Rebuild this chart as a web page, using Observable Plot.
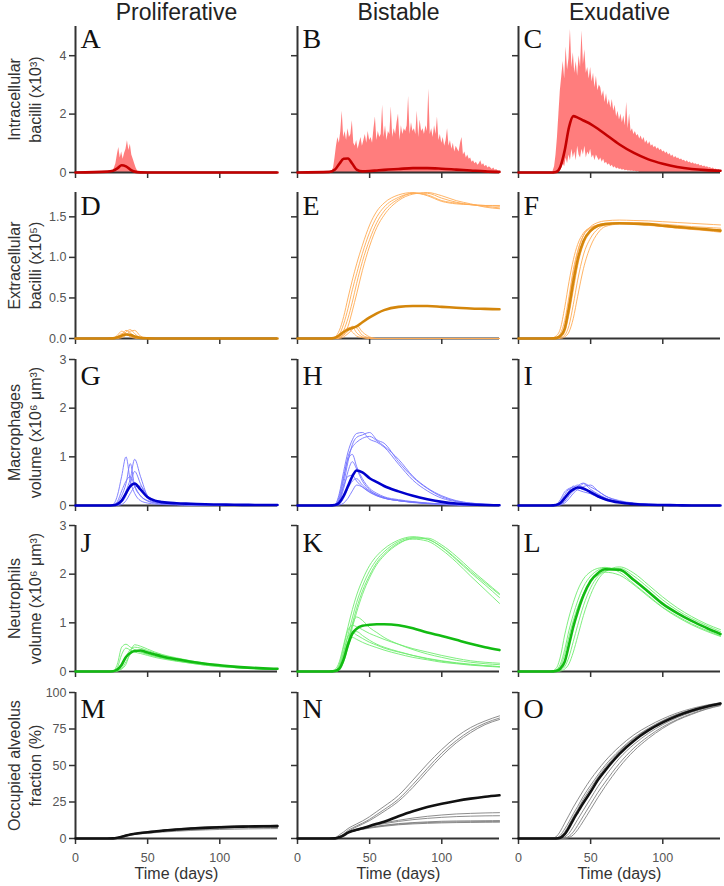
<!DOCTYPE html>
<html><head><meta charset="utf-8">
<script src="https://cdn.jsdelivr.net/npm/d3@7"></script>
<script src="https://cdn.jsdelivr.net/npm/@observablehq/plot@0.6"></script>
<style>
body{margin:0;background:#fff;}
#fig{position:relative;width:724px;height:886px;overflow:hidden;background:#fff;}
#fig svg{position:absolute;background:transparent;overflow:visible;}
g[aria-label$="tick label"]{fill:#555;}
g[aria-label="x-axis tick"], g[aria-label="y-axis tick"]{stroke:#333;stroke-width:1.5;}
</style></head><body><div id="fig"></div>
<script>
// ---- shared grid (days) ----
const T = [0,22,26,29,32,35,38,41,45,50,55,60,70,80,90,100,110,120,130,140];
const columns = ["Proliferative","Bistable","Exudative"];
const letters = [["A","B","C"],["D","E","F"],["G","H","I"],["J","K","L"],["M","N","O"]];
const yLabels = ["Intracellular\nbacilli (x10³)","Extracellular\nbacilli (x10⁵)","Macrophages\nvolume (x10⁶ μm³)","Neutrophils\nvolume (x10⁶ μm³)","Occupied alveolus\nfraction (%)"];
const yDomains = [[0,5],[0,1.8],[0,3],[0,3],[0,100]];
const yTicks = [[0,2,4],[0,0.5,1,1.5],[0,1,2,3],[0,1,2,3],[0,25,50,75,100]];
const xTicks = [0,50,100];
const xLabel = "Time (days)";

// ---- row 1: intracellular bacilli ----
const intraA_mean = [0,0.03,0.06,0.14,0.25,0.21,0.1,0.03,0.005,0,0,0,0,0,0,0,0,0,0,0];
const intraB_mean = [0,0.02,0.1,0.3,0.47,0.48,0.3,0.1,0.04,0.05,0.07,0.09,0.12,0.15,0.15,0.13,0.1,0.07,0.04,0.02];
const intraC_mean = [0,0,0.02,0.2,0.75,1.55,1.93,1.88,1.78,1.66,1.5,1.32,0.96,0.67,0.45,0.3,0.19,0.12,0.08,0.06];
const noiseA_days = d3.range(25,46);
const noiseA_hi = [0,0.05,0.15,0.3,0.6,0.86,0.5,0.7,0.45,0.65,0.8,1.09,0.75,0.97,0.6,0.45,0.3,0.15,0.05,0.02,0];
const noiseBC_days = d3.range(24,141);
const noiseB_hi = [0.05,0.15,0.5,0.9,1.2,1.0,1.4,2.1,1.2,1.4,
 1.1,1.5,1.2,1.3,1.77,1.0,0.9,1.1,0.8,1.0,
 1.2,0.9,1.1,1.3,1.0,1.4,1.1,1.2,1.0,1.5,
 1.9,1.1,1.4,1.2,1.3,2.3,1.2,1.6,1.1,1.4,
 1.3,2.25,1.2,1.5,1.3,1.7,2.0,1.1,1.6,1.3,
 1.5,1.4,1.6,2.6,1.3,1.7,1.4,1.5,1.3,2.1,
 1.2,1.8,1.4,1.5,1.3,1.6,1.4,2.85,1.3,1.5,
 1.2,1.6,1.3,1.9,1.1,1.3,1.0,1.2,0.9,1.1,
 1.5,0.9,1.1,0.8,1.0,0.7,0.9,0.8,0.7,1.0,
 1.2,0.6,0.7,0.5,0.6,0.45,0.5,0.35,0.4,0.3,
 0.35,0.25,0.3,0.4,0.25,0.3,0.2,0.25,0.15,0.2,
 0.15,0.1,0.15,0.08,0.1,0.05,0.03];
const noiseC_hi = [0.05,0.2,0.6,1.2,2.0,2.8,3.3,3.8,3.2,4.3,
 3.5,3.9,4.9,3.6,4.1,3.4,3.8,3.3,4.0,3.6,
 4.85,3.7,4.2,3.4,3.6,3.2,3.6,3.1,3.4,2.9,
 3.3,2.8,3.0,2.9,2.6,2.8,2.4,2.7,2.3,2.5,
 2.2,2.5,2.1,2.3,1.9,2.1,1.8,2.0,1.7,1.94,
 1.6,2.4,1.5,2.0,1.4,1.5,1.3,1.4,1.25,1.3,
 1.15,1.25,1.1,1.2,1.0,1.1,0.95,1.05,0.9,0.95,
 0.85,0.9,0.8,0.85,0.75,0.8,0.7,0.74,0.65,0.7,
 0.6,0.65,0.55,0.6,0.5,0.55,0.48,0.5,0.44,0.46,
 0.4,0.42,0.36,0.4,0.33,0.36,0.3,0.33,0.28,0.3,
 0.26,0.28,0.22,0.25,0.2,0.22,0.18,0.2,0.15,0.17,
 0.13,0.15,0.1,0.12,0.08,0.1,0.06];
const noiseC_lo = [0,0,0,0,0,0.05,0.15,0.3,0.2,0.5,
 0.3,0.6,0.4,0.8,0.5,0.7,0.4,0.9,0.6,0.5,
 0.8,0.6,0.9,0.5,0.7,0.6,0.8,0.5,0.6,0.4,
 0.6,0.5,0.4,0.5,0.35,0.45,0.3,0.35,0.25,0.3,
 0.2,0.25,0.15,0.2,0.12,0.15,0.1,0.12,0.08,0.1,
 0.06,0.08,0.05,0.06,0.04,0.05,0.03,0.04,0.02,0.03,
 0,0,0,0,0,0,0,0,0,0,
 0,0,0,0,0,0,0,0,0,0,
 0,0,0,0,0,0,0,0,0,0,
 0,0,0,0,0,0,0,0,0,0,
 0,0,0,0,0,0,0,0,0,0,
 0,0,0,0,0,0,0];

// ---- row 2: extracellular bacilli ----
const extraD_mean = [0,0,0.002,0.015,0.035,0.05,0.045,0.025,0.008,0.002,0,0,0,0,0,0,0,0,0,0];
const extraD_thin = [
 [0,0,0.005,0.04,0.09,0.06,0.02,0.005,0,0,0,0,0,0,0,0,0,0,0,0],
 [0,0,0,0.01,0.05,0.1,0.07,0.02,0.003,0,0,0,0,0,0,0,0,0,0,0],
 [0,0,0,0.005,0.03,0.08,0.11,0.06,0.01,0,0,0,0,0,0,0,0,0,0,0],
 [0,0,0,0,0.01,0.04,0.09,0.1,0.03,0,0,0,0,0,0,0,0,0,0,0],
 [0,0,0.003,0.02,0.06,0.05,0.03,0.01,0,0,0,0,0,0,0,0,0,0,0,0]];
const extraE_mean = [0,0,0.01,0.04,0.08,0.11,0.13,0.15,0.2,0.26,0.31,0.35,0.39,0.4,0.4,0.39,0.38,0.37,0.365,0.36];
const extraE_thin = [
 [0,0,0.02,0.1,0.27,0.5,0.72,0.92,1.15,1.4,1.57,1.67,1.77,1.8,1.76,1.69,1.66,1.65,1.64,1.64],
 [0,0,0.01,0.05,0.18,0.37,0.6,0.8,1.05,1.31,1.5,1.62,1.74,1.79,1.77,1.7,1.67,1.65,1.64,1.63],
 [0,0,0,0.02,0.1,0.25,0.45,0.68,0.95,1.22,1.43,1.57,1.72,1.79,1.79,1.73,1.68,1.65,1.63,1.61],
 [0,0,0,0.01,0.05,0.15,0.34,0.55,0.84,1.14,1.37,1.52,1.7,1.78,1.8,1.76,1.7,1.66,1.62,1.6],
 [0,0,0.01,0.05,0.1,0.12,0.08,0.03,0.01,0,0,0,0,0,0,0,0,0,0,0],
 [0,0,0,0.02,0.07,0.13,0.14,0.07,0.02,0,0,0,0,0,0,0,0,0,0,0],
 [0,0,0,0.01,0.04,0.09,0.15,0.13,0.04,0.01,0,0,0,0,0,0,0,0,0,0],
 [0,0,0,0,0.02,0.06,0.11,0.16,0.08,0.02,0,0,0,0,0,0,0,0,0,0]];
const extraF_mean = [0,0,0.005,0.03,0.12,0.38,0.7,0.97,1.2,1.33,1.39,1.41,1.42,1.415,1.41,1.39,1.375,1.36,1.345,1.33];
const extraF_thin = [
 [0,0,0.03,0.12,0.38,0.7,0.97,1.16,1.3,1.37,1.4,1.41,1.42,1.415,1.41,1.39,1.38,1.36,1.35,1.34],
 [0,0,0.01,0.06,0.22,0.52,0.85,1.08,1.27,1.36,1.4,1.42,1.43,1.43,1.42,1.41,1.395,1.38,1.37,1.36],
 [0,0,0,0.02,0.08,0.3,0.6,0.9,1.16,1.31,1.38,1.41,1.42,1.41,1.4,1.38,1.36,1.345,1.33,1.31],
 [0,0,0,0.01,0.04,0.16,0.42,0.72,1.03,1.24,1.35,1.4,1.42,1.41,1.395,1.38,1.365,1.35,1.34,1.32],
 [0,0,0,0,0.02,0.08,0.25,0.52,0.86,1.14,1.3,1.38,1.41,1.41,1.4,1.385,1.37,1.355,1.34,1.33],
 [0,0,0.005,0.04,0.15,0.45,0.8,1.06,1.27,1.38,1.43,1.45,1.46,1.455,1.45,1.44,1.43,1.42,1.41,1.4]];

// ---- row 3: macrophages ----
const macG_mean = [0,0,0.005,0.03,0.1,0.25,0.4,0.45,0.33,0.17,0.1,0.07,0.045,0.035,0.025,0.02,0.015,0.012,0.01,0.01];
const macG_thin = [
 [0,0,0.02,0.2,0.6,1.0,0.5,0.25,0.1,0.05,0.03,0.02,0.01,0,0,0,0,0,0,0],
 [0,0,0,0.02,0.1,0.3,0.55,0.95,0.6,0.2,0.1,0.06,0.03,0.02,0.01,0,0,0,0,0],
 [0,0,0,0.05,0.2,0.45,0.86,0.4,0.2,0.1,0.06,0.04,0.02,0.01,0,0,0,0,0,0],
 [0,0,0.01,0.08,0.3,0.5,0.6,0.4,0.2,0.09,0.05,0.03,0.02,0.01,0,0,0,0,0,0],
 [0,0,0,0.01,0.06,0.2,0.45,0.7,0.45,0.15,0.07,0.05,0.03,0.02,0.01,0,0,0,0,0],
 [0,0,0,0,0.02,0.1,0.25,0.38,0.4,0.2,0.1,0.06,0.04,0.02,0.01,0,0,0,0,0]];
const macH_mean = [0,0,0.01,0.06,0.2,0.4,0.6,0.72,0.68,0.56,0.48,0.4,0.29,0.2,0.13,0.075,0.04,0.02,0.01,0.005];
const macH_thin = [
 [0,0,0.02,0.25,0.7,1.1,1.35,1.48,1.5,1.36,1.3,1.2,0.85,0.52,0.3,0.15,0.08,0.04,0.02,0.01],
 [0,0,0,0.1,0.45,0.9,1.25,1.4,1.45,1.5,1.35,1.28,0.9,0.58,0.35,0.18,0.09,0.05,0.02,0.01],
 [0,0,0.01,0.15,0.55,1.0,1.2,1.3,1.38,1.42,1.33,1.22,0.95,0.6,0.36,0.2,0.1,0.05,0.03,0.01],
 [0,0,0.02,0.2,0.6,0.95,1.05,0.8,0.55,0.35,0.25,0.18,0.12,0.08,0.05,0.03,0.02,0.01,0,0],
 [0,0,0,0.08,0.35,0.7,0.9,0.75,0.5,0.32,0.22,0.16,0.1,0.07,0.04,0.02,0.01,0,0,0],
 [0,0,0.01,0.12,0.4,0.6,0.62,0.5,0.38,0.27,0.2,0.15,0.1,0.07,0.05,0.03,0.02,0.01,0,0],
 [0,0,0,0.03,0.15,0.35,0.5,0.55,0.42,0.3,0.22,0.16,0.1,0.07,0.04,0.03,0.02,0.01,0,0],
 [0,0,0,0.01,0.05,0.15,0.3,0.42,0.38,0.28,0.2,0.15,0.1,0.06,0.04,0.02,0.01,0,0,0]];
const macI_mean = [0,0,0.01,0.05,0.15,0.26,0.33,0.37,0.35,0.27,0.19,0.13,0.06,0.03,0.015,0.01,0.005,0,0,0];
const macI_thin = [
 [0,0,0.02,0.12,0.28,0.35,0.38,0.42,0.36,0.28,0.2,0.14,0.07,0.03,0.02,0.01,0,0,0,0],
 [0,0,0,0.04,0.15,0.3,0.4,0.36,0.45,0.33,0.24,0.16,0.08,0.04,0.02,0.01,0,0,0,0],
 [0,0,0.01,0.08,0.22,0.33,0.3,0.38,0.32,0.3,0.22,0.15,0.07,0.04,0.02,0.01,0.005,0,0,0],
 [0,0,0,0.02,0.08,0.2,0.3,0.4,0.46,0.38,0.3,0.2,0.1,0.05,0.03,0.015,0.01,0,0,0],
 [0,0,0.005,0.05,0.18,0.28,0.36,0.32,0.28,0.24,0.17,0.12,0.06,0.03,0.015,0.01,0,0,0,0],
 [0,0,0,0.01,0.05,0.14,0.25,0.33,0.39,0.42,0.3,0.2,0.09,0.04,0.02,0.01,0.005,0,0,0]];

// ---- row 4: neutrophils ----
const neuJ_mean = [0,0,0.005,0.04,0.14,0.3,0.38,0.42,0.43,0.39,0.35,0.31,0.25,0.2,0.16,0.13,0.1,0.08,0.065,0.055];
const neuJ_thin = [
 [0,0,0.01,0.15,0.5,0.56,0.5,0.45,0.4,0.35,0.31,0.28,0.22,0.18,0.14,0.11,0.09,0.07,0.06,0.05],
 [0,0,0,0.01,0.05,0.15,0.4,0.55,0.52,0.46,0.4,0.35,0.28,0.22,0.17,0.13,0.1,0.08,0.065,0.055],
 [0,0,0.005,0.08,0.35,0.48,0.44,0.4,0.37,0.33,0.29,0.26,0.21,0.17,0.13,0.1,0.08,0.065,0.05,0.04],
 [0,0,0,0.02,0.1,0.3,0.45,0.5,0.48,0.43,0.38,0.33,0.27,0.21,0.16,0.12,0.1,0.08,0.06,0.05],
 [0,0,0,0.01,0.06,0.2,0.35,0.42,0.4,0.36,0.32,0.28,0.22,0.17,0.13,0.1,0.08,0.06,0.05,0.04]];
const neuK_mean = [0,0,0.01,0.06,0.25,0.55,0.78,0.88,0.94,0.96,0.97,0.97,0.95,0.89,0.8,0.73,0.65,0.57,0.5,0.44];
const neuK_thin = [
 [0,0,0.02,0.12,0.4,0.75,1.1,1.42,1.75,2.07,2.3,2.46,2.67,2.75,2.72,2.55,2.3,2.03,1.78,1.52],
 [0,0,0.04,0.2,0.55,0.92,1.27,1.57,1.88,2.18,2.38,2.52,2.7,2.77,2.72,2.56,2.32,2.06,1.82,1.58],
 [0,0,0.01,0.06,0.25,0.55,0.9,1.22,1.58,1.93,2.2,2.38,2.62,2.74,2.74,2.6,2.37,2.1,1.85,1.6],
 [0,0,0.01,0.08,0.3,0.62,0.98,1.3,1.65,1.98,2.24,2.41,2.64,2.72,2.68,2.5,2.25,1.96,1.68,1.4],
 [0,0,0.02,0.15,0.5,0.85,0.95,0.92,0.86,0.78,0.72,0.66,0.56,0.47,0.4,0.33,0.27,0.22,0.19,0.17],
 [0,0,0,0.05,0.25,0.6,0.95,1.12,1.05,0.9,0.8,0.7,0.56,0.45,0.36,0.29,0.23,0.19,0.16,0.14],
 [0,0,0.01,0.1,0.4,0.72,0.8,0.75,0.68,0.6,0.54,0.48,0.4,0.33,0.27,0.22,0.18,0.15,0.12,0.1],
 [0,0,0,0.03,0.2,0.5,0.75,0.82,0.74,0.64,0.56,0.5,0.41,0.33,0.26,0.21,0.17,0.14,0.12,0.1],
 [0,0,0.01,0.08,0.35,0.62,0.7,0.66,0.6,0.54,0.49,0.44,0.36,0.29,0.24,0.19,0.16,0.13,0.11,0.09]];
const neuL_mean = [0,0,0.01,0.06,0.2,0.55,0.92,1.22,1.56,1.86,2.02,2.1,2.09,1.88,1.64,1.39,1.2,1.04,0.9,0.77];
const neuL_thin = [
 [0,0,0.06,0.3,0.75,1.12,1.42,1.67,1.9,2.05,2.12,2.14,2.04,1.8,1.56,1.32,1.14,0.98,0.85,0.73],
 [0,0,0.03,0.15,0.45,0.85,1.17,1.45,1.74,1.96,2.08,2.13,2.08,1.86,1.62,1.38,1.19,1.03,0.9,0.78],
 [0,0,0,0.03,0.1,0.3,0.62,0.95,1.35,1.72,1.95,2.07,2.12,1.96,1.72,1.47,1.26,1.09,0.95,0.82],
 [0,0,0,0.01,0.05,0.16,0.4,0.72,1.15,1.58,1.88,2.05,2.15,2.02,1.78,1.53,1.31,1.13,0.98,0.86],
 [0,0,0.02,0.1,0.35,0.72,1.05,1.32,1.6,1.85,1.98,2.04,1.98,1.78,1.54,1.31,1.12,0.96,0.83,0.72]];

// ---- row 5: occupied alveolus fraction ----
const occM_mean = [0,0,0.1,0.5,1.2,2.0,2.7,3.2,3.8,4.3,4.8,5.3,6.2,6.8,7.3,7.7,8.0,8.2,8.35,8.5];
const occM_thin = [
 [0,0,0.15,0.7,1.5,2.3,3.0,3.5,4.1,4.7,5.2,5.7,6.7,7.4,7.9,8.3,8.6,8.8,9.0,9.1],
 [0,0,0.05,0.4,1.0,1.7,2.4,2.9,3.4,3.9,4.3,4.8,5.6,6.1,6.5,6.9,7.2,7.4,7.5,7.6],
 [0,0,0.1,0.5,1.1,1.8,2.4,2.8,3.2,3.6,4.0,4.4,5.0,5.5,5.9,6.2,6.4,6.6,6.7,6.8],
 [0,0,0.05,0.3,0.9,1.6,2.4,3.0,3.7,4.3,4.9,5.4,6.4,7.0,7.5,7.9,8.2,8.4,8.6,8.7],
 [0,0,0.1,0.6,1.3,2.1,2.8,3.3,3.9,4.5,5.0,5.5,6.4,7.1,7.6,8.0,8.3,8.5,8.65,8.8]];
const occN_mean = [0,0,0.1,0.8,2.2,4.0,5.1,6.0,7.0,8.6,10.1,11.5,15.2,18.6,21.5,23.8,25.7,27.3,28.6,29.6];
const occN_thin = [
 [0,0,0.5,2.5,4.5,6.8,8.5,10,12,15,18.5,22,29.5,40,51,61,69.5,76,80.5,84],
 [0,0,0.2,1.5,3.2,5.5,7.2,8.7,10.5,13.2,16.5,19.8,27,37,48,58.5,67,74,79,82.5],
 [0,0,0.1,1,2.5,4.5,6.5,8,9.8,12.3,15.3,18.5,25.5,35,46,56.5,65.5,72.5,78,81.5],
 [0,0,0.2,1.2,2.8,4.5,5.5,6.4,7.4,8.7,9.8,10.8,12.5,14,15.2,16.1,16.8,17.2,17.5,17.7],
 [0,0,0.1,0.8,2.2,4,5.2,6.1,7.1,8.3,9.3,10.2,11.7,12.9,13.8,14.5,15,15.3,15.5,15.6],
 [0,0,0.1,1,2.5,4.2,5.2,5.9,6.7,7.6,8.4,9.1,10.2,10.9,11.4,11.8,12,12.1,12.2,12.3],
 [0,0,0.05,0.5,1.8,3.6,4.8,5.6,6.5,7.4,8.1,8.8,9.8,10.5,10.9,11.2,11.4,11.5,11.6,11.6],
 [0,0,0.1,0.9,2.4,4,4.9,5.5,6.3,7.1,7.8,8.4,9.4,10,10.4,10.7,10.9,11,11.1,11.2]];
const occO_mean = [0,0,0,0.5,3,7.5,13,18,24.5,32,40,46.5,58,67,74,79.5,84,87.5,90.2,92.4];
const occO_thin = [
 [0,0,1.2,5,10.5,16,21.5,26.5,33,40.5,47,53,63,71,77,82,86,89,91.3,93],
 [0,0,0.3,2.2,6.5,11.5,17,22,29,36.5,43.5,50,60.5,69,75.5,80.8,85,88.3,90.8,92.7],
 [0,0,0,0.2,1.0,3.5,8,13,19.5,27.5,35.5,42.5,55,64.5,72,78,82.8,86.5,89.5,91.8],
 [0,0,0,0,0.3,1.5,4.5,9,15.5,23.5,31.5,38.5,51.5,62,70,76.5,81.5,85.5,88.8,91.3],
 [0,0,0,0,0.1,0.6,2.5,6,12,20,28,35.5,49,60,68.5,75.5,81,85,88.5,91],
 [0,0,0.1,1.2,4.5,9.5,15,20,27,34.5,42,48.5,59.5,68.5,75,80.5,85,88,90.6,92.6]];

// ---- assemble ----
const rows = [
 {thinColor:"#ff6b6b", meanColor:"#c40000", fmt:d3.format("d"), panels:[
   {mean:intraA_mean, thin:[], noise:{days:noiseA_days, hi:noiseA_hi}},
   {mean:intraB_mean, thin:[], noise:{days:noiseBC_days, hi:noiseB_hi}},
   {mean:intraC_mean, thin:[], noise:{days:noiseBC_days, hi:noiseC_hi, lo:noiseC_lo}}]},
 {thinColor:"#ffab55", meanColor:"#d4860b", fmt:d3.format(".1f"), panels:[
   {mean:extraD_mean, thin:extraD_thin},{mean:extraE_mean, thin:extraE_thin},{mean:extraF_mean, thin:extraF_thin}]},
 {thinColor:"#7575ff", meanColor:"#0000cc", fmt:d3.format("d"), panels:[
   {mean:macG_mean, thin:macG_thin},{mean:macH_mean, thin:macH_thin},{mean:macI_mean, thin:macI_thin}]},
 {thinColor:"#70ec70", meanColor:"#12bb12", fmt:d3.format("d"), panels:[
   {mean:neuJ_mean, thin:neuJ_thin},{mean:neuK_mean, thin:neuK_thin},{mean:neuL_mean, thin:neuL_thin}]},
 {thinColor:"#808080", meanColor:"#111111", fmt:d3.format("d"), panels:[
   {mean:occM_mean, thin:occM_thin},{mean:occN_mean, thin:occN_thin},{mean:occO_mean, thin:occO_thin}]}
];
const X0 = [75, 297, 518];
const Ytop = [26, 192, 359, 525, 692];
const PW = 202, PH = 146;
const letterDy = [2, 3, 6, 7, 6];
const fig = document.getElementById("fig");
const serif = "'Liberation Serif','DejaVu Serif',serif";

for (let r = 0; r < 5; r++) {
  for (let c = 0; c < 3; c++) {
    const R = rows[r], P = R.panels[c];
    const ml = c === 0 ? 75 : 20, mr = 4, mt = r === 0 ? 27 : 10, mb = r === 4 ? 48 : 14;
    const lines = [];
    P.thin.forEach((arr, k) => arr.forEach((v, i) => lines.push({t: T[i], v, id: k})));
    const mean = P.mean.map((v, i) => ({t: T[i], v}));
    const marks = [];
    if (P.noise) {
      const nd = P.noise.hi.map((h, i) => ({t: P.noise.days[i], hi: h, lo: P.noise.lo ? P.noise.lo[i] : 0}));
      marks.push(Plot.areaY(nd, {x: "t", y1: "lo", y2: "hi", fill: "#ff6b6b", fillOpacity: 0.88}));
    }
    marks.push(Plot.ruleX([0], {stroke: "#333", strokeWidth: 2}));
    marks.push(Plot.ruleY([0], {stroke: "#333", strokeWidth: 2}));
    if (lines.length) marks.push(Plot.line(lines, {x: "t", y: "v", z: "id", stroke: R.thinColor, strokeWidth: 0.9, curve: "monotone-x"}));
    marks.push(Plot.line(mean, {x: "t", y: "v", stroke: R.meanColor, strokeWidth: 2.6, curve: "monotone-x"}));
    marks.push(Plot.text([letters[r][c]], {text: d => d, frameAnchor: "top-left", dx: 5, dy: letterDy[r], lineAnchor: "top", textAnchor: "start", fontFamily: serif, fontSize: 28, fill: "#111"}));
    if (c === 0) marks.push(Plot.text([yLabels[r]], {text: d => d, frameAnchor: "left", dx: -52, rotate: -90, lineAnchor: "middle", textAnchor: "middle", fontSize: 16, lineHeight: 1.35, fill: "#333"}));
    if (r === 0) marks.push(Plot.text([columns[c]], {text: d => d, frameAnchor: "top", dy: -13.5, lineAnchor: "middle", textAnchor: "middle", fontSize: 23, fill: "#222"}));
    if (r === 4) marks.push(Plot.text([xLabel], {text: d => d, frameAnchor: "bottom", dy: 35, lineAnchor: "middle", textAnchor: "middle", fontSize: 16, fill: "#333"}));
    const svg = Plot.plot({
      width: ml + PW + mr, height: mt + PH + mb,
      marginLeft: ml, marginRight: mr, marginTop: mt, marginBottom: mb,
      style: {fontFamily: "'Liberation Sans', Arial, sans-serif", fontSize: "12.5px", color: "#333", background: "transparent", overflow: "visible"},
      x: {domain: [0, 140], ticks: xTicks, tickSize: 6, tickPadding: 9, label: null, tickFormat: r === 4 ? d3.format("d") : () => ""},
      y: {domain: yDomains[r], ticks: yTicks[r], tickSize: 6, tickPadding: 3, label: null, tickFormat: c === 0 ? R.fmt : () => ""},
      marks
    });
    svg.style.left = (X0[c] - ml) + "px";
    svg.style.top = (Ytop[r] - mt) + "px";
    fig.appendChild(svg);
  }
}
</script></body></html>
